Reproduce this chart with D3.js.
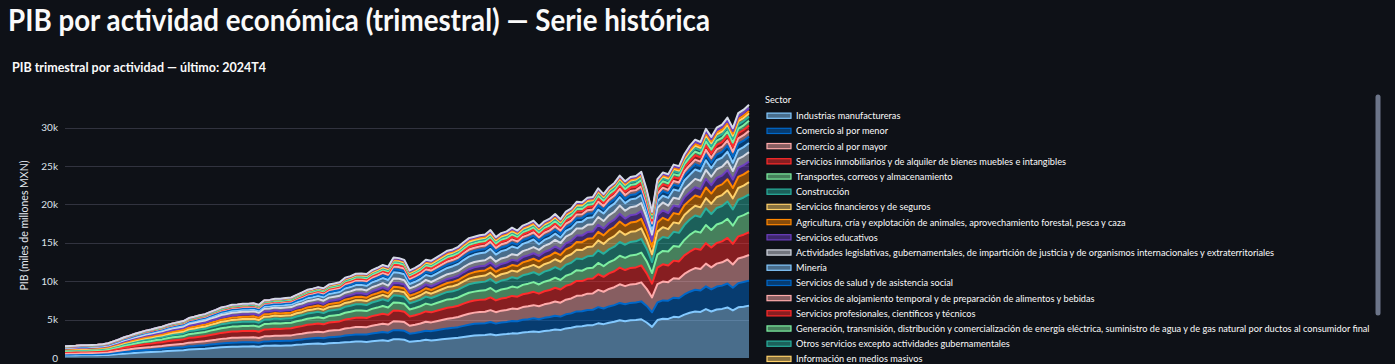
<!DOCTYPE html>
<html><head><meta charset="utf-8">
<script src="https://cdn.jsdelivr.net/npm/d3@7"></script>
<style>
html,body{margin:0;padding:0;background:#0e1117;overflow:hidden;}
svg{display:block;}
text{font-family:"Lato","Open Sans","Noto Sans",sans-serif;}
</style></head><body>
<svg id="chart" width="1395" height="364"></svg>
<script>
// ---------- DATA ----------
const startYear = 1993, endYear = 2024;
const titleText = "PIB por actividad económica (trimestral) — Serie histórica";
const subtitleText = "PIB trimestral por actividad — último: 2024T4";
const yAxisTitle = "PIB (miles de millones MXN)";
const legendTitle = "Sector";
const yTicks = [0, 5000, 10000, 15000, 20000, 25000, 30000];

const sectors = [
  "Industrias manufactureras",
  "Comercio al por menor",
  "Comercio al por mayor",
  "Servicios inmobiliarios y de alquiler de bienes muebles e intangibles",
  "Transportes, correos y almacenamiento",
  "Construcción",
  "Servicios financieros y de seguros",
  "Agricultura, cría y explotación de animales, aprovechamiento forestal, pesca y caza",
  "Servicios educativos",
  "Actividades legislativas, gubernamentales, de impartición de justicia y de organismos internacionales y extraterritoriales",
  "Minería",
  "Servicios de salud y de asistencia social",
  "Servicios de alojamiento temporal y de preparación de alimentos y bebidas",
  "Servicios profesionales, científicos y técnicos",
  "Generación, transmisión, distribución y comercialización de energía eléctrica, suministro de agua y de gas natural por ductos al consumidor final",
  "Otros servicios excepto actividades gubernamentales",
  "Información en medios masivos",
  "Servicios de apoyo a los negocios y manejo de residuos, y servicios de remediación",
  "Corporativos",
  "Servicios de esparcimiento culturales y deportivos, y otros servicios recreativos"
];
const palette = ["#83c9ff","#0068c9","#ffabab","#ff2b2b","#7defa1","#29b09d","#ffd16a","#ff8700","#6d3fc0","#d5dae5"];

const manufactureras = [319,328,334,347,344,355,361,376,401,454,506,568,612,665,707,749,781,823,855,907,954,986,1018,1102,1134,1177,1208,1272,1325,1389,1420,1463,1480,1502,1502,1517,1470,1598,1608,1640,1609,1630,1641,1714,1743,1814,1845,1886,1813,1910,1940,1970,2038,2078,2136,2142,2091,2189,2246,2316,2218,2438,2425,2382,2107,2171,2250,2364,2281,2358,2437,2515,2573,2635,2745,2842,2938,2973,2994,3099,2975,3074,3116,3207,3198,3323,3378,3449,3393,3520,3587,3706,3652,3852,3938,4112,4141,4261,4279,4511,4408,4594,4709,4907,4792,4909,4936,5044,4620,4053,4935,5111,5091,5357,5314,5645,5891,6063,5999,6364,6056,6309,6393,6583,6189,6593,6686,6817];
const comercioMenor = [137,140,143,149,144,149,151,158,165,187,209,234,247,268,285,302,307,324,336,357,369,381,394,426,428,444,456,480,488,511,523,538,535,543,543,548,518,563,566,578,601,608,612,640,680,708,720,736,749,789,801,813,884,901,927,929,958,1003,1030,1061,1074,1180,1174,1153,1065,1097,1137,1195,1216,1258,1300,1341,1350,1382,1440,1491,1508,1526,1537,1591,1503,1553,1574,1620,1591,1653,1680,1716,1644,1706,1739,1796,1735,1830,1871,1953,1938,1994,2003,2111,2033,2119,2172,2263,2212,2266,2278,2328,2156,1891,2303,2385,2366,2490,2470,2624,2740,2820,2790,2960,2870,2990,3030,3120,2960,3153,3198,3260];
const comercioMayor = [144,148,151,157,154,159,162,168,177,200,223,250,270,293,312,330,340,359,373,396,410,423,437,473,482,500,513,540,563,590,603,621,619,627,627,634,607,660,664,678,678,686,691,722,748,779,792,810,803,846,859,872,926,943,970,973,969,1015,1041,1073,1062,1167,1161,1140,1031,1062,1101,1157,1140,1179,1219,1257,1294,1325,1380,1429,1461,1479,1489,1541,1488,1537,1558,1604,1591,1653,1680,1716,1696,1760,1793,1853,1808,1907,1949,2035,2060,2120,2129,2244,2183,2275,2332,2430,2350,2407,2420,2474,2222,1949,2374,2458,2414,2540,2520,2677,2740,2820,2790,2960,2870,2990,3030,3120,3020,3217,3262,3326];
const inmobiliarios = [182,187,191,198,197,203,206,215,228,258,288,323,348,378,402,426,444,468,486,516,540,558,576,624,637,660,678,714,744,779,797,821,827,839,839,847,821,893,898,916,901,913,918,959,978,1018,1035,1058,1019,1074,1090,1107,1154,1177,1210,1213,1187,1243,1275,1315,1263,1388,1380,1356,1202,1239,1284,1349,1305,1349,1395,1439,1420,1454,1515,1569,1571,1590,1601,1657,1535,1586,1607,1654,1607,1670,1698,1733,1644,1706,1739,1796,1716,1810,1851,1933,1877,1931,1939,2044,1947,2029,2080,2168,2097,2148,2159,2207,2024,1776,2162,2239,2175,2289,2270,2412,2466,2538,2511,2664,2583,2691,2727,2808,2691,2867,2907,2964];
const transportes = [137,140,143,149,148,152,155,161,173,196,218,245,264,287,305,323,340,359,373,396,414,428,442,478,498,516,530,558,581,609,623,642,653,663,663,669,649,705,710,724,708,718,722,754,765,797,810,828,794,836,849,862,894,912,937,940,904,946,971,1001,956,1051,1045,1026,905,932,966,1015,976,1009,1043,1076,1055,1080,1125,1165,1163,1177,1185,1226,1128,1165,1181,1215,1176,1223,1243,1269,1194,1239,1263,1305,1242,1310,1339,1398,1346,1385,1391,1467,1391,1450,1486,1548,1590,1628,1637,1673,1584,1390,1692,1752,1816,1911,1896,2014,2192,2256,2232,2368,2296,2392,2424,2496,2362,2516,2552,2601];
const construccion = [114,117,119,124,123,127,129,134,143,161,180,202,220,239,255,270,281,296,308,327,342,353,365,395,407,422,433,456,481,504,516,531,535,543,543,548,531,578,581,593,585,593,597,623,638,664,675,690,667,703,714,725,770,784,807,809,795,832,854,880,850,934,929,912,813,838,868,912,887,917,948,978,998,1022,1065,1103,1115,1129,1137,1176,1128,1165,1181,1215,1193,1240,1260,1287,1264,1311,1336,1380,1351,1425,1457,1521,1510,1553,1560,1644,1605,1673,1715,1787,1705,1746,1756,1795,1628,1428,1739,1801,1745,1836,1821,1935,2000,2059,2037,2161,2066,2153,2182,2246,2123,2261,2293,2338];
const financieros = [68,70,72,74,75,78,79,82,87,99,110,124,136,148,157,167,178,187,194,206,216,223,230,250,262,272,279,294,313,328,335,345,348,353,353,356,352,383,385,393,385,390,393,410,417,434,441,451,442,466,473,480,499,509,523,525,512,536,550,567,543,597,593,583,527,543,563,591,570,590,609,629,661,677,705,730,770,779,784,812,799,825,836,861,878,913,928,947,935,970,988,1021,1023,1079,1103,1151,1183,1217,1223,1289,1284,1338,1372,1429,1290,1322,1329,1358,1166,1023,1246,1290,1171,1232,1223,1299,1233,1269,1256,1332,1349,1405,1424,1466,1435,1529,1550,1581];
const agricultura = [68,70,72,74,74,76,77,81,86,97,108,121,128,139,147,156,163,172,178,189,198,205,211,229,235,244,251,264,269,282,288,297,299,303,303,306,297,323,325,331,323,328,330,344,357,372,378,386,370,390,396,402,426,435,447,448,436,456,468,482,460,506,503,494,447,460,477,501,481,498,515,531,562,576,600,621,660,668,672,696,673,696,705,726,746,775,788,804,814,844,860,889,876,924,945,987,1020,1050,1054,1111,1113,1160,1189,1239,1175,1204,1210,1237,1100,965,1175,1217,1147,1207,1198,1272,1288,1325,1311,1391,1320,1375,1394,1435,1346,1433,1454,1482];
const educativos = [68,70,72,74,74,76,77,81,86,97,108,121,131,142,151,160,167,176,182,194,203,209,216,234,241,250,257,270,281,295,302,311,313,317,317,320,311,338,340,347,339,343,345,361,366,381,387,396,379,399,405,412,437,445,458,459,446,467,480,494,472,519,516,507,447,460,477,501,481,498,515,531,548,562,585,606,613,620,624,646,626,647,656,675,663,689,700,715,710,736,750,775,749,790,807,843,857,882,885,933,899,937,960,1000,945,968,973,994,880,772,940,974,932,981,973,1034,1041,1072,1060,1125,1091,1136,1151,1186,1106,1178,1195,1218];
const legislativas = [68,70,72,74,74,76,77,81,87,99,110,124,133,145,154,163,174,183,190,202,212,219,226,244,257,266,274,288,300,314,322,331,341,345,345,349,338,368,370,377,370,374,377,394,400,416,423,432,424,447,454,461,478,488,501,503,501,524,538,555,531,584,581,570,515,531,550,578,557,576,596,615,619,634,660,683,691,700,704,729,689,712,722,743,746,775,788,804,779,808,824,851,822,867,886,925,918,945,949,1000,963,1004,1029,1072,1014,1038,1044,1067,924,811,987,1022,980,1031,1023,1087,1069,1100,1088,1154,1091,1136,1151,1186,1106,1178,1195,1218];
const mineria = [53,55,56,58,57,59,60,63,68,77,86,97,104,113,121,128,133,140,146,155,149,153,158,172,187,194,200,210,238,249,255,262,250,254,254,256,262,285,287,293,323,328,330,344,391,407,414,423,451,475,483,490,551,562,578,579,599,627,644,663,732,804,800,786,573,590,612,643,735,760,785,810,872,893,930,963,974,986,993,1027,924,955,968,996,911,947,963,983,744,772,787,813,712,751,768,802,877,903,906,955,984,1026,1052,1096,991,1015,1020,1043,792,695,846,876,1004,1056,1048,1113,1178,1213,1200,1273,1119,1166,1182,1217,1076,1147,1163,1185];
const salud = [43,44,45,46,46,47,48,50,53,60,67,75,78,85,90,96,100,105,109,116,122,126,130,140,144,150,154,162,163,170,174,179,181,183,183,185,179,195,196,200,208,211,212,221,230,239,243,248,253,266,270,274,302,307,316,317,316,331,339,350,354,389,387,380,355,366,379,398,405,419,433,447,436,446,465,481,471,477,480,497,454,469,476,490,464,482,490,500,467,485,494,511,475,501,512,535,510,525,527,556,514,535,549,572,553,566,570,582,550,483,588,609,598,629,624,663,685,705,698,740,718,748,758,780,777,828,840,856];
const alojamiento = [38,39,40,41,41,42,43,45,48,54,60,67,73,79,84,89,93,98,101,108,113,116,120,130,134,139,143,150,156,164,168,173,174,176,176,178,173,188,189,193,193,195,196,205,221,230,234,239,235,247,251,255,281,286,294,295,294,308,316,326,330,363,361,355,321,330,342,360,367,380,393,405,394,403,420,435,424,429,432,447,407,421,426,439,414,431,438,447,433,449,458,473,438,462,473,493,469,483,485,511,471,491,503,524,507,519,522,534,480,280,400,440,454,478,474,504,575,592,586,622,631,658,667,686,658,701,711,724];
const profesionales = [21,22,22,23,23,24,24,25,27,30,34,38,41,44,47,50,52,55,57,60,63,65,67,73,75,78,80,84,88,92,94,97,97,99,99,100,97,105,106,108,116,117,118,123,136,142,144,147,153,162,164,167,187,191,196,197,207,217,222,229,236,259,258,253,240,248,257,270,279,288,298,307,309,317,330,342,330,334,336,348,329,340,344,354,331,344,350,357,346,359,366,378,347,366,374,391,388,399,401,422,385,401,411,429,438,448,451,461,418,367,447,462,478,503,499,530,548,564,558,592,574,598,606,624,628,669,678,692];
const generacion = [17,17,17,18,18,19,19,20,21,24,26,30,32,35,37,39,41,43,45,47,50,51,53,57,59,61,63,66,69,72,74,76,76,78,78,78,76,83,83,85,92,94,94,98,111,115,117,120,126,133,135,137,156,159,164,164,174,182,187,193,201,220,219,215,206,212,220,231,241,249,257,265,253,259,270,280,267,270,272,282,266,275,279,287,265,276,280,286,277,287,293,303,274,289,295,308,306,315,316,333,300,312,320,333,346,354,356,364,352,309,376,389,382,402,399,424,466,479,474,503,517,538,545,562,568,605,614,626];
const otrosServicios = [18,19,19,20,20,20,21,21,23,26,29,32,35,38,40,43,44,47,49,52,54,56,58,62,64,67,68,72,75,79,80,83,83,85,85,85,83,90,91,92,100,101,102,107,111,115,117,120,126,133,135,137,146,148,153,153,163,171,176,181,177,195,194,190,183,189,196,206,203,210,217,224,225,230,240,248,236,239,240,249,235,243,246,253,232,241,245,250,242,251,256,265,256,270,276,288,265,273,274,289,278,290,297,310,323,330,332,340,308,270,329,341,359,377,374,398,438,451,446,474,459,478,485,499,508,541,549,560];
const informacion = [14,14,14,15,15,15,15,16,17,19,22,24,26,28,30,32,33,35,36,39,45,47,48,52,54,56,57,60,63,66,67,69,70,71,71,71,69,75,76,77,77,78,79,82,85,89,90,92,90,95,97,98,104,106,109,109,109,114,117,121,118,130,129,127,115,118,122,129,127,131,135,140,141,144,150,155,157,159,160,166,157,162,164,169,166,172,175,179,173,180,183,189,183,193,197,206,204,210,211,222,193,201,206,214,230,236,237,243,242,212,259,268,263,277,274,292,329,338,335,355,344,359,364,374,389,414,420,428];
const apoyoNegocios = [8,8,8,8,8,8,9,9,10,11,12,13,15,16,17,18,19,20,20,22,27,28,29,31,32,33,34,36,38,39,40,41,42,42,42,43,41,45,45,46,54,55,55,57,68,71,72,74,72,76,77,78,94,95,98,98,109,114,117,121,118,130,129,127,126,130,135,141,152,157,162,168,155,158,165,171,157,159,160,166,157,162,164,169,149,155,158,161,138,144,146,151,146,154,158,164,143,147,148,156,128,134,137,143,138,142,142,146,154,135,165,170,167,176,175,186,219,226,223,237,230,239,242,250,269,287,291,296];
const corporativos = [5,5,5,5,5,5,5,5,6,6,7,8,9,9,10,11,11,12,12,13,14,14,14,16,16,17,17,18,19,20,20,21,21,21,21,21,21,23,23,23,31,31,31,33,43,44,45,46,54,57,58,59,62,64,65,66,76,80,82,84,94,104,103,101,103,106,110,116,127,131,135,140,127,130,135,140,141,143,144,149,125,129,131,135,133,138,140,143,121,126,128,132,128,135,138,144,122,126,126,133,128,134,137,143,161,165,166,170,154,135,165,170,191,201,200,212,247,254,251,266,287,299,303,312,329,350,355,362];
const esparcimiento = [5,5,5,5,5,5,5,5,6,6,7,8,9,9,10,11,11,12,12,13,14,14,14,16,16,17,17,18,19,20,20,21,21,21,21,21,21,23,23,23,31,31,31,33,43,44,45,46,54,57,58,59,73,74,76,77,87,91,94,96,106,117,116,114,115,118,122,129,139,144,149,154,141,144,150,155,141,143,144,149,141,146,148,152,133,138,140,143,138,144,146,151,128,135,138,144,143,147,148,156,128,134,137,143,161,165,166,170,165,80,150,175,191,201,200,212,274,282,279,296,316,329,333,343,389,414,420,428];

const seriesValues = [manufactureras, comercioMenor, comercioMayor, inmobiliarios, transportes,
  construccion, financieros, agricultura, educativos, legislativas, mineria, salud, alojamiento,
  profesionales, generacion, otrosServicios, informacion, apoyoNegocios, corporativos, esparcimiento];

// ---------- LAYOUT ----------
const plot = {left: 65, right: 749, top: 93, bottom: 358};
const svg = d3.select("#chart");

const quarters = [];
for (let yr = startYear; yr <= endYear; yr++) for (let q = 1; q <= 4; q++) quarters.push(yr + "T" + q);

const rows = quarters.map((q, i) => {
  const r = {quarter: q};
  sectors.forEach((s, k) => { r[s] = seriesValues[k][i]; });
  return r;
});
const stacked = d3.stack().keys(sectors)(rows);
const colorOf = k => palette[k % palette.length];

const x = d3.scalePoint().domain(quarters).range([plot.left, plot.right]).padding(0);
const y = d3.scaleLinear().domain([0, 34500]).range([plot.bottom, plot.top]);

// grid
svg.append("g").selectAll("line").data(yTicks.filter(t => t > 0)).join("line")
  .attr("x1", plot.left).attr("x2", plot.right)
  .attr("y1", d => Math.round(y(d)) + 0.5).attr("y2", d => Math.round(y(d)) + 0.5)
  .attr("stroke", "#31333f").attr("stroke-width", 1);

// fills
const area = d3.area()
  .x((d, i) => x(quarters[i]))
  .y0(d => y(d[0])).y1(d => y(d[1]));
svg.append("g").selectAll("path").data(stacked).join("path")
  .attr("d", area)
  .attr("fill", (d, k) => colorOf(k)).attr("fill-opacity", 0.5);

// lines
const line = d3.line().x((d, i) => x(quarters[i])).y(d => y(d[1]));
svg.append("g").selectAll("path").data(stacked).join("path")
  .attr("d", line).attr("fill", "none")
  .attr("stroke", (d, k) => colorOf(k)).attr("stroke-width", 2)
  .attr("stroke-linejoin", "round");

// y axis
const yAxis = svg.append("g").attr("transform", `translate(${plot.left},0)`)
  .call(d3.axisLeft(y).tickValues(yTicks).tickFormat(d3.format("~s")).tickSize(0).tickPadding(7));
yAxis.select(".domain").remove();
yAxis.selectAll("text").attr("fill", "#dfe3ea").attr("font-size", 10)
  .style("font-family", '"Lato","Open Sans",sans-serif');

// y axis title
const yt = svg.append("text")
  .attr("transform", `translate(28,${(plot.top + plot.bottom) / 2}) rotate(-90)`)
  .attr("text-anchor", "middle").attr("fill", "#e6e9ef").attr("font-size", 10.5)
  .text(yAxisTitle);
yt.attr("textLength", 130).attr("lengthAdjust", "spacingAndGlyphs");

// titles
const t1 = svg.append("text").attr("x", 8).attr("y", 31)
  .attr("fill", "#fafafa").attr("font-size", 30).attr("font-weight", 700).text(titleText);
t1.attr("textLength", 702).attr("lengthAdjust", "spacingAndGlyphs");
const t2 = svg.append("text").attr("x", 12).attr("y", 72)
  .attr("fill", "#fafafa").attr("font-size", 13).attr("font-weight", 700).text(subtitleText);
t2.attr("textLength", 254).attr("lengthAdjust", "spacingAndGlyphs");

// legend (a scrolling box in the reference; entries below the window are cut as there)
svg.append("clipPath").attr("id", "legendClip")
  .append("rect").attr("x", 755).attr("y", 88).attr("width", 640).attr("height", 276);
const lg = svg.append("g").attr("clip-path", "url(#legendClip)");
const legendX = 767, legendTextX = 796, legendTop = 115.7, legendStep = 15.2;
const lt = lg.append("text").attr("x", 765).attr("y", 103.5).attr("fill", "#fafafa")
  .attr("font-size", 9.6).text(legendTitle);
const items = lg.selectAll("g.item").data(sectors).join("g").attr("class", "item")
  .attr("transform", (d, k) => `translate(0,${legendTop + k * legendStep})`);
items.append("rect").attr("x", legendX).attr("y", -2.6).attr("width", 24).attr("height", 5.2)
  .attr("fill", (d, k) => colorOf(k)).attr("fill-opacity", 0.5)
  .attr("stroke", (d, k) => colorOf(k)).attr("stroke-width", 1.2);
const labels = items.append("text").attr("x", 0).attr("y", 0)
  .attr("fill", "#fafafa").attr("font-size", 9.6).text(d => d);
// uniform horizontal condensation so the longest visible label spans like the reference
const longest = d3.max(labels.nodes(), n => n.getComputedTextLength());
const k = 574 / longest;
labels.attr("transform", `translate(${legendTextX},3.4) scale(${k},1)`);
lt.attr("transform", `translate(765,103.5) scale(${k},1) translate(-765,-103.5)`);

// legend scrollbar
svg.append("rect").attr("x", 1375.5).attr("y", 94.5).attr("width", 5).attr("height", 221)
  .attr("rx", 2.5).attr("fill", "#6c7589");
</script>
</body></html>
